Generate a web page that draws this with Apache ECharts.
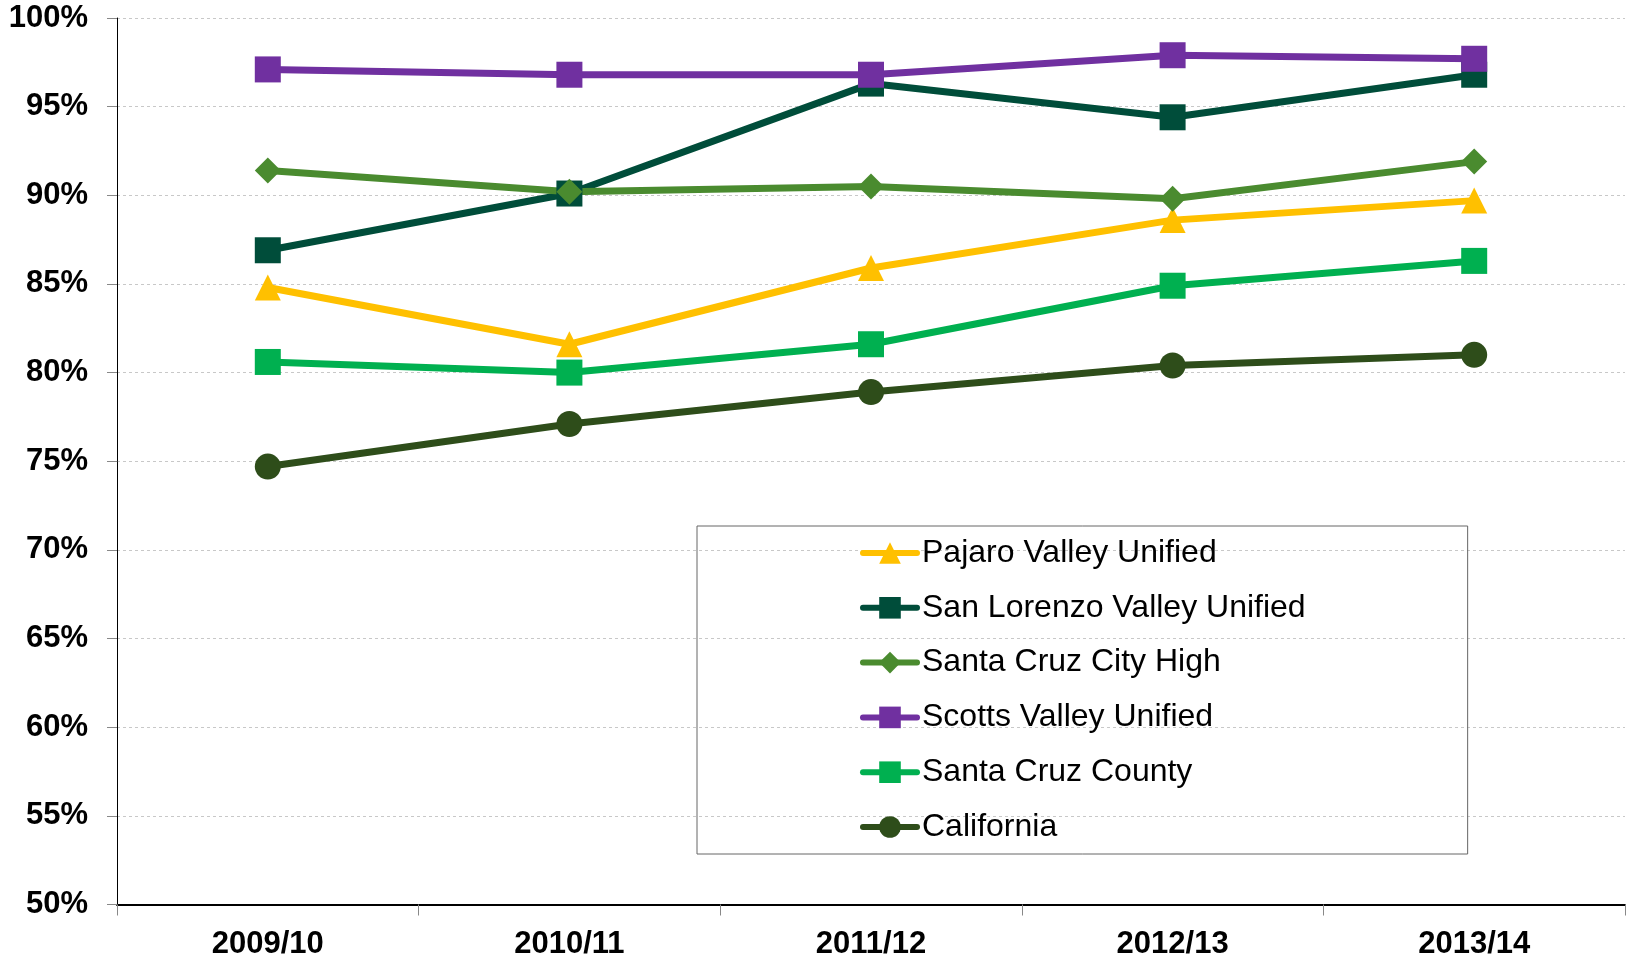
<!DOCTYPE html>
<html>
<head>
<meta charset="utf-8">
<script src="https://cdn.jsdelivr.net/npm/echarts@6/dist/echarts.min.js"></script>
<style>
    html, body { margin: 0; padding: 0; background: #fff; }
    #chart { width: 1627px; height: 963px; }
</style>
</head>
<body>
<div id="chart"></div>
<script>
var years = ["2009/10", "2010/11", "2011/12", "2012/13", "2013/14"];
var pajaro = [84.8, 81.6, 85.9, 88.6, 89.7];
var sanLorenzo = [86.9, 90.1, 96.3, 94.4, 96.8];
var santaCruzHigh = [91.4, 90.2, 90.5, 89.8, 91.9];
var scottsValley = [97.1, 96.8, 96.8, 97.9, 97.7];
var santaCruzCounty = [80.6, 80.0, 81.6, 84.9, 86.3];
var california = [74.7, 77.1, 78.9, 80.4, 81.0];

var myChart = echarts.init(document.getElementById("chart"));

function makeLine(name, data, color, symbol) {
    return {
        name: name,
        type: "line",
        data: data,
        symbol: symbol,
        symbolSize: 26,
        showAllSymbol: true,
        animation: false,
        itemStyle: { color: color },
        lineStyle: { color: color, width: 7 }
    };
}

var font = "'Liberation Sans', Arial, sans-serif";

var option = {
    backgroundColor: "#fff",
    animation: false,
    grid: {
        left: 117,
        right: 2,
        top: 18,
        bottom: 58.5,
        containLabel: false
    },
    legend: {
        orient: "vertical",
        left: 697,
        top: 526,
        padding: [11, 162, 11, 163],
        borderColor: "#666",
        borderWidth: 1,
        itemWidth: 54,
        itemHeight: 27,
        itemGap: 22.8,
        lineStyle: { width: 6, cap: "round" },
        textStyle: {
            fontFamily: font,
            fontSize: 32,
            lineHeight: 32,
            color: "#000"
        },
        data: [
            "Pajaro Valley Unified",
            "San Lorenzo Valley Unified",
            "Santa Cruz City High",
            "Scotts Valley Unified",
            "Santa Cruz County",
            "California"
        ]
    },
    xAxis: {
        type: "category",
        boundaryGap: true,
        data: years,
        axisLine: { lineStyle: { color: "#000", width: 2 } },
        axisTick: { show: true, length: 11, lineStyle: { color: "#888" } },
        axisLabel: {
            margin: 24,
            color: "#000",
            fontFamily: font,
            fontWeight: "bold",
            fontSize: 31
        },
        splitLine: { show: false }
    },
    yAxis: {
        type: "value",
        min: 50,
        max: 100,
        interval: 5,
        axisLine: { show: true, lineStyle: { color: "#000", width: 1 } },
        axisTick: { show: true, length: 10, lineStyle: { color: "#888" } },
        axisLabel: {
            margin: 29,
            formatter: "{value}%",
            color: "#000",
            fontFamily: font,
            fontWeight: "bold",
            fontSize: 31
        },
        splitLine: {
            show: true,
            lineStyle: { color: "#c8c8c8", type: [3, 3], width: 1 }
        }
    },
    series: [
        makeLine("Pajaro Valley Unified", pajaro, "#FFC000", "triangle"),
        makeLine("San Lorenzo Valley Unified", sanLorenzo, "#004D3A", "rect"),
        makeLine("Santa Cruz City High", santaCruzHigh, "#4A8B2F", "diamond"),
        makeLine("Scotts Valley Unified", scottsValley, "#7030A0", "rect"),
        makeLine("Santa Cruz County", santaCruzCounty, "#00B050", "rect"),
        makeLine("California", california, "#2E4D1A", "circle")
    ]
};
myChart.setOption(option);
</script>
</body>
</html>
